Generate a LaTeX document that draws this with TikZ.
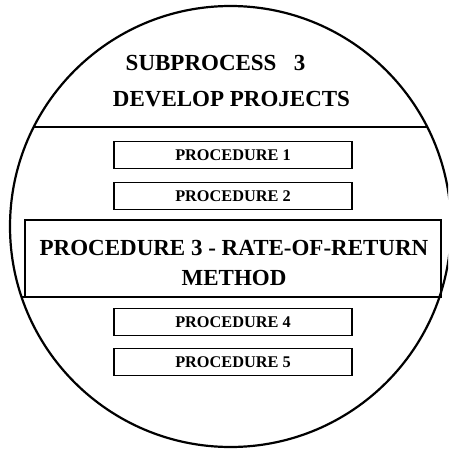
\documentclass[tikz,border=0pt]{standalone}
\usepackage{fontspec}
\setmainfont{Liberation Serif}
\begin{document}
\begin{tikzpicture}[x=1pt,y=-1pt,
  big/.style={font=\fontsize{23}{30}\selectfont\bfseries, inner sep=0pt},
  procbox/.style={draw, line width=1.4pt, minimum width=238pt, minimum height=27pt, inner sep=0pt,
    font=\fontsize{16.3}{18}\selectfont\bfseries},
  mainbox/.style={draw, line width=1.2pt, minimum width=416pt, minimum height=77pt, inner sep=0pt},
  rim/.style={line width=2.2pt},
  divider/.style={line width=1.5pt}]
\useasboundingbox (0,0) rectangle (448,450);
\begin{scope}
\clip (0,0) rectangle (448,450);
\node[draw, circle, rim, minimum size=441pt, inner sep=0pt] (disc) at (230.5,226.5) {};
\end{scope}
% divider lines
\coordinate (d1l) at (33.7,127);
\coordinate (d1r) at (427.3,127);
\draw[divider] (d1l) -- (d1r);
\coordinate (d2l) at (21.6,297);
\coordinate (d2r) at (439.4,297);
\draw[divider] (d2l) -- (d2r);
% titles
\node[big] (t1) at (215.5,63) {SUBPROCESS\hspace{0.75em}3};
\node[big] (t2) at (231.5,99) {DEVELOP PROJECTS};
% procedures
\node[procbox] (p1) at (233,155) {PROCEDURE 1};
\node[procbox] (p2) at (233,196) {PROCEDURE 2};
\node[mainbox] (p3) at (233,258.5) {};
\node[big, align=center] (p3t) at (234,263) {PROCEDURE 3 - RATE-OF-RETURN\\METHOD};
\node[procbox] (p4) at (233,322) {PROCEDURE 4};
\node[procbox] (p5) at (233,362) {PROCEDURE 5};
\end{tikzpicture}
\end{document}
